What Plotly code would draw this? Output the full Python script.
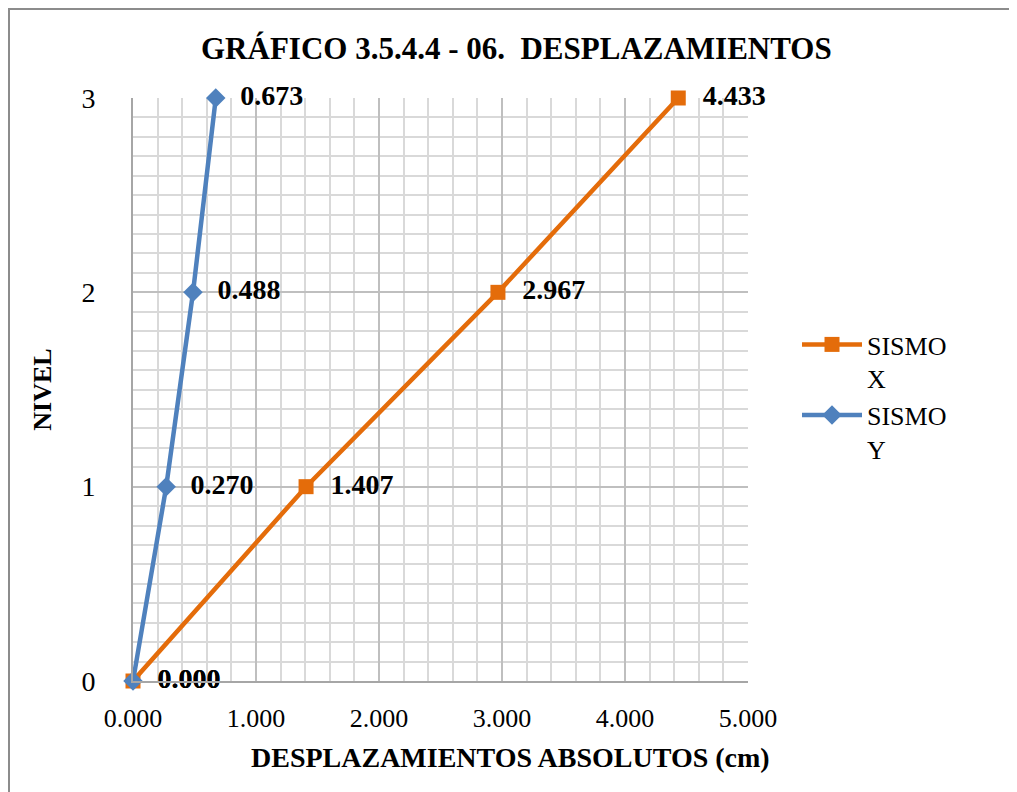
import plotly.graph_objects as go

niveles = [0, 1, 2, 3]
sismo_x = [0.000, 1.407, 2.967, 4.433]
sismo_y = [0.000, 0.270, 0.488, 0.673]
x_ticks = [0, 1, 2, 3, 4, 5]
x_tick_labels = ["0.000", "1.000", "2.000", "3.000", "4.000", "5.000"]
y_ticks = [0, 1, 2, 3]

ORANGE = "#E46C0A"
BLUE = "#4F81BD"
SERIF = "Liberation Serif, Times New Roman, serif"
PAD = "\u00a0\u00a0"

# page body has an 8px margin; plot area target: x 133..748, y 98..681 on screen
OX, OY = 8, 8
L, T, W, H = 133 - OX, 98 - OY, 615, 583
FW, FH = 1017 - OX, 792 - OY

fig = go.Figure()
fig.add_trace(go.Scatter(
    x=sismo_x, y=niveles, name="SISMO<br>X", mode="lines+markers+text",
    line=dict(color=ORANGE, width=4.5),
    marker=dict(symbol="square", size=15, color=ORANGE),
    text=[PAD + f"{v:.3f}" for v in sismo_x], textposition="middle right",
    textfont=dict(family=SERIF, size=28, color="black", weight="bold"),
    cliponaxis=False,
))
fig.add_trace(go.Scatter(
    x=sismo_y, y=niveles, name="SISMO<br>Y", mode="lines+markers+text",
    line=dict(color=BLUE, width=4.5),
    marker=dict(symbol="diamond", size=15, color=BLUE),
    text=[PAD + f"{v:.3f}" for v in sismo_y], textposition="middle right",
    textfont=dict(family=SERIF, size=28, color="black", weight="bold"),
    cliponaxis=False,
))

fig.update_layout(
    width=FW, height=FH,
    margin=dict(l=L, r=FW - L - W, t=T, b=FH - T - H, pad=0),
    paper_bgcolor="white", plot_bgcolor="white",
    font=dict(family=SERIF, color="black"),
    showlegend=True,
    legend=dict(x=(797 - 133) / W, y=(681 - 321) / H, xanchor="left", yanchor="top",
                font=dict(family=SERIF, size=26, color="black"),
                valign="top", bgcolor="rgba(0,0,0,0)", itemwidth=60),
    xaxis=dict(range=[0, 5], tickvals=x_ticks, ticktext=x_tick_labels,
               showgrid=True, gridcolor="#BFBFBF", gridwidth=1.5,
               minor=dict(dtick=0.2, showgrid=True, gridcolor="#D9D9D9", gridwidth=1.5),
               showline=True, linecolor="#A6A6A6", linewidth=2,
               zeroline=False, ticks="outside", ticklen=13, tickcolor="rgba(0,0,0,0)",
               tickfont=dict(family=SERIF, size=26, color="black")),
    yaxis=dict(range=[0, 3], tickvals=y_ticks,
               showgrid=True, gridcolor="#BFBFBF", gridwidth=1.5,
               minor=dict(dtick=0.1, showgrid=True, gridcolor="#D9D9D9", gridwidth=1.5),
               showline=True, linecolor="#A6A6A6", linewidth=2,
               zeroline=False, ticks="outside", ticklen=30, tickcolor="rgba(0,0,0,0)",
               tickfont=dict(family=SERIF, size=28, color="black"),
               title=dict(text="<b>NIVEL</b>", font=dict(family=SERIF, size=26, color="black"),
                          standoff=22)),
)

fig.add_annotation(text="<b>GRÁFICO 3.5.4.4 - 06.  DESPLAZAMIENTOS</b>",
                   xref="paper", yref="paper", x=(516 - 133) / W, y=(681 - 48) / H,
                   xanchor="center", yanchor="middle", showarrow=False,
                   font=dict(family=SERIF, size=31, color="black"))
fig.add_annotation(text="<b>DESPLAZAMIENTOS ABSOLUTOS (cm)</b>",
                   xref="paper", yref="paper", x=(510 - 133) / W, y=(681 - 757) / H,
                   xanchor="center", yanchor="middle", showarrow=False,
                   font=dict(family=SERIF, size=28, color="black"))

# chart-area border (left and top edges visible in the reference)
fig.add_shape(type="rect", xref="paper", yref="paper",
              x0=(9 - 133) / W, x1=(1040 - 133) / W,
              y0=(681 - 820) / H, y1=(681 - 9) / H,
              line=dict(color="#8C8C8C", width=2), layer="below")

fig.write_html("out.html")
